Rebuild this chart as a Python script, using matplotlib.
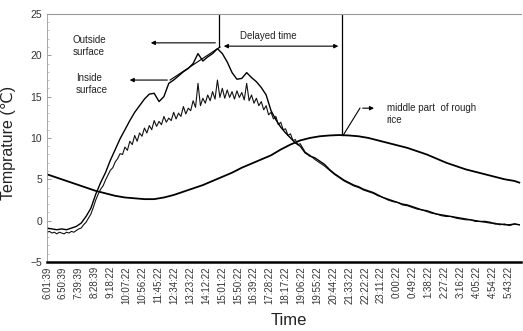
# -*- coding: utf-8 -*-
# Temperature of rough rice: outside / inside surface and middle part
import numpy as np
import matplotlib.pyplot as plt

plt.rcParams['font.family'] = ['Liberation Sans', 'DejaVu Sans']

tick_labels = ['6:01:39', '6:50:39', '7:39:39', '8:28:39', '9:18:22', '10:07:22',
               '10:56:22', '11:45:22', '12:34:22', '13:23:22', '14:12:22', '15:01:22',
               '15:50:22', '16:39:22', '17:28:22', '18:17:22', '19:06:22', '19:55:22',
               '20:44:22', '21:33:22', '22:22:22', '23:11:22', '0:00:22', '0:49:22',
               '1:38:22', '2:27:22', '3:16:22', '4:05:22', '4:54:22', '5:43:22']
tick_step = 49.0     # minutes between labels

# outside surface, every 15 min from 6:01:39
outside = [-0.9, -1.0, -1.1, -1.0, -1.1, -0.9, -0.7, -0.3,
           0.5, 1.5, 3.2, 4.6, 5.8, 7.3, 8.6, 9.9,
           11.0, 12.1, 13.1, 13.9, 14.7, 15.3, 15.4, 14.4,
           15.0, 16.6, 17.0, 17.5, 18.0, 18.4, 19.0, 20.2,
           19.3, 19.8, 20.2, 20.8, 20.2, 19.2, 17.9, 17.1,
           17.2, 17.9, 17.3, 16.8, 16.1, 15.2, 13.3, 12.2,
           11.3, 10.6, 10.0, 9.4, 9.0, 8.2, 7.8, 7.6,
           7.2, 6.8, 6.2, 5.7, 5.3, 4.9, 4.6, 4.3,
           4.1, 3.8, 3.6, 3.4, 3.1, 2.8, 2.6, 2.4,
           2.2, 2.0, 1.9, 1.7, 1.5, 1.3, 1.2, 1.0,
           0.8, 0.7, 0.6, 0.5, 0.4, 0.3, 0.2, 0.1,
           0.0, -0.1, -0.1, -0.2, -0.4, -0.4, -0.5, -0.5,
           -0.4, -0.5]

# inside surface, every 7.5 min during the day
inside_day = [-1.4, -1.3, -1.5, -1.4, -1.6, -1.4, -1.5, -1.6,
              -1.4, -1.5, -1.3, -1.4, -1.2, -1.0, -0.9, -0.5,
              -0.2, 0.3, 0.8, 1.6, 2.5, 3.2, 3.8, 4.2,
              4.9, 5.5, 6.1, 6.4, 7.1, 7.5, 8.1, 8.0,
              8.9, 8.5, 9.6, 9.2, 10.3, 9.6, 10.6, 10.2,
              11.2, 10.6, 11.5, 11.0, 12.1, 11.4, 12.0, 11.6,
              12.6, 11.9, 12.4, 12.1, 13.1, 12.3, 13.0, 12.6,
              13.8, 12.9, 13.6, 13.3, 14.5, 13.7, 16.6, 13.9,
              14.8, 14.2, 15.2, 14.5, 15.6, 14.7, 17.0, 14.9,
              16.0, 14.8, 15.8, 14.9, 15.6, 14.7, 15.7, 14.9,
              15.5, 14.6, 16.6, 14.5, 15.2, 14.2, 14.8, 13.9,
              14.4, 13.4, 13.9, 12.8, 13.1, 12.3, 12.6, 11.6,
              11.9, 11.0, 11.1, 10.3, 10.5, 9.7, 9.8, 9.2,
              9.3]
# inside surface, every 15 min from 19:16 on
inside_night = [8.3, 7.9, 7.4, 7.0, 6.6, 6.1, 5.6, 5.2,
                4.8, 4.5, 4.2, 4.0, 3.7, 3.5, 3.3, 3.0,
                2.8, 2.5, 2.3, 2.2, 1.9, 1.8, 1.6, 1.4,
                1.3, 1.1, 0.9, 0.8, 0.6, 0.5, 0.5, 0.3,
                0.2, 0.1, 0.1, -0.1, -0.1, -0.2, -0.3, -0.3,
                -0.5, -0.4, -0.6, -0.4, -0.5]

# middle part of rough rice, every 30 min
middle = [5.6, 5.2, 4.8, 4.4, 4.0, 3.6, 3.3, 3.0,
          2.8, 2.7, 2.6, 2.6, 2.8, 3.1, 3.5, 3.9,
          4.3, 4.8, 5.3, 5.8, 6.4, 6.9, 7.4, 7.9,
          8.6, 9.2, 9.7, 10.0, 10.2, 10.3, 10.35, 10.3,
          10.2, 10.0, 9.7, 9.4, 9.1, 8.8, 8.4, 8.0,
          7.5, 7.0, 6.6, 6.2, 5.9, 5.6, 5.3, 5.0,
          4.8, 4.6]

t_out = np.arange(len(outside)) * 15.0
t_in = np.concatenate([np.arange(len(inside_day)) * 7.5,
                       780.0 + 15.0 * np.arange(1, len(inside_night) + 1)])
v_in = np.array(inside_day + inside_night)
t_mid = np.arange(len(middle)) * 30.0
t_mid[-1] = 1455.0

label_size = 7
txt_col = '#222222'
fig1 = plt.figure(figsize=(5.23, 3.31), dpi=100)
ax1 = fig1.add_axes([0.090, 0.2085, 0.906, 0.7495])

ax1.plot(t_mid, middle, color='k', linewidth=1.3)
ax1.plot(t_in, v_in, color='#111111', linewidth=0.8)
ax1.plot(t_out, outside, color='k', linewidth=1.0)

ax1.set_xlim(0, 1460)
ax1.set_ylim(-5, 25)
ax1.set_yticks(np.arange(-5, 26, 5))
ax1.set_yticks(np.arange(-5, 26, 1), minor=True)
ax1.set_xticks(np.arange(len(tick_labels)) * tick_step)
ax1.set_xticklabels(tick_labels, rotation=90, fontsize=label_size, color='#333333')
ax1.tick_params(axis='x', length=0, pad=3)
ax1.tick_params(axis='y', which='major', labelsize=7.5, labelcolor='#333333',
                length=3, width=0.6, color='#888888', direction='in')
ax1.tick_params(axis='y', which='minor', length=1.5, width=0.5, color='#aaaaaa',
                direction='in')

ax1.spines['right'].set_visible(False)
ax1.spines['top'].set_color('#999999')
ax1.spines['top'].set_linewidth(0.8)
ax1.spines['left'].set_color('#999999')
ax1.spines['left'].set_linewidth(0.6)
ax1.spines['bottom'].set_color('k')
ax1.spines['bottom'].set_linewidth(1.8)

ax1.set_ylabel(u'Temprature (\u2103)', fontsize=11.5, color=txt_col)
ax1.set_xlabel('Time', fontsize=12, color=txt_col)
ax1.xaxis.set_label_coords(0.51, -0.205)
ax1.yaxis.set_label_coords(-0.066, 0.48)

# peak lines and arrows
arr = dict(arrowstyle='-|>', color='k', lw=0.8, mutation_scale=6)
ax1.plot([530, 530], [21.0, 25], color='k', linewidth=0.9)
ax1.plot([909, 909], [10.3, 25], color='k', linewidth=0.9)
ax1.annotate('', xy=(536, 21.1), xytext=(906, 21.1),
             arrowprops=dict(arrowstyle='<|-|>', color='k', lw=0.8, mutation_scale=6))
ax1.text(681, 22.35, 'Delayed time', fontsize=7, color=txt_col, ha='center', va='center')

ax1.annotate('', xy=(311, 21.5), xytext=(527, 21.5), arrowprops=arr)
ax1.text(129, 21.1, 'Outside\nsurface', fontsize=7, color=txt_col,
         ha='center', va='center', linespacing=1.3)

ax1.plot([533, 379], [21.0, 17.0], color='k', linewidth=0.8)
ax1.annotate('', xy=(246, 17.0), xytext=(379, 17.0), arrowprops=arr)
ax1.text(89, 16.5, 'Inside\nsurface', fontsize=7, color=txt_col,
         ha='left', va='center', linespacing=1.3)

ax1.plot([912, 964], [10.3, 13.6], color='k', linewidth=0.8)
ax1.annotate('', xy=(1016, 13.6), xytext=(964, 13.6), arrowprops=arr)
ax1.text(1047, 12.9, 'middle part  of rough\nrice', fontsize=7, color=txt_col,
         ha='left', va='center', linespacing=1.3)

plt.savefig('out.png', format='png', dpi=100)
